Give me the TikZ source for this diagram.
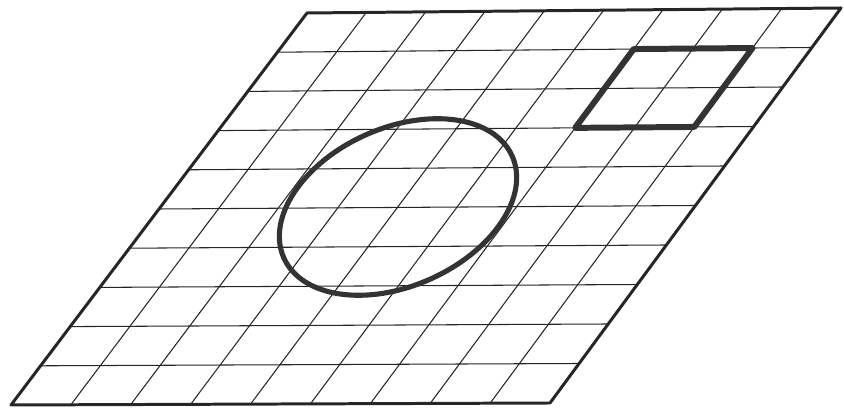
\documentclass[tikz,border=0pt]{standalone}
\usepackage{tikz}
\usetikzlibrary{calc}

\begin{document}
\begin{tikzpicture}[x=0.02cm, y=0.02cm, line join=round,
    rim/.style={line width=1.7pt, black!85},
    gridline/.style={line width=0.6pt, black!85},
    ring/.style={line width=2.9pt, black!80},
    patch/.style={line width=3.4pt, black!80}]
      \useasboundingbox (0,0) rectangle (844,411);
      \coordinate (BL) at (11,6);
      \coordinate (BR) at (550,8);
      \coordinate (TL) at (307,398);
      \coordinate (TR) at (841,403);

      % grid
      \foreach \i in {1,...,8}
        \draw[gridline] ($(BL)!\i/9!(BR)$) -- ($(TL)!\i/9!(TR)$);
      \foreach \j in {1,...,9}
        \draw[gridline] ($(BL)!\j/10!(TL)$) -- ($(BR)!\j/10!(TR)$);
      \draw[rim] (BL) -- (BR) -- (TR) -- (TL) -- cycle;

      % square, two cells by two
      \coordinate (s1) at ($($(BL)!0.7!(TL)$)!6/9!($(BR)!0.7!(TR)$)$);
      \coordinate (s2) at ($($(BL)!0.7!(TL)$)!8/9!($(BR)!0.7!(TR)$)$);
      \coordinate (s3) at ($($(BL)!0.9!(TL)$)!8/9!($(BR)!0.9!(TR)$)$);
      \coordinate (s4) at ($($(BL)!0.9!(TL)$)!6/9!($(BR)!0.9!(TR)$)$);
      \draw[patch] (s1) -- (s2) -- (s3) -- (s4) -- cycle;

      % ellipse
      \coordinate (c) at (398,204);
      \draw[ring, rotate around={24:(c)}] (c) ellipse [x radius=125, y radius=79];
\end{tikzpicture}
\end{document}
